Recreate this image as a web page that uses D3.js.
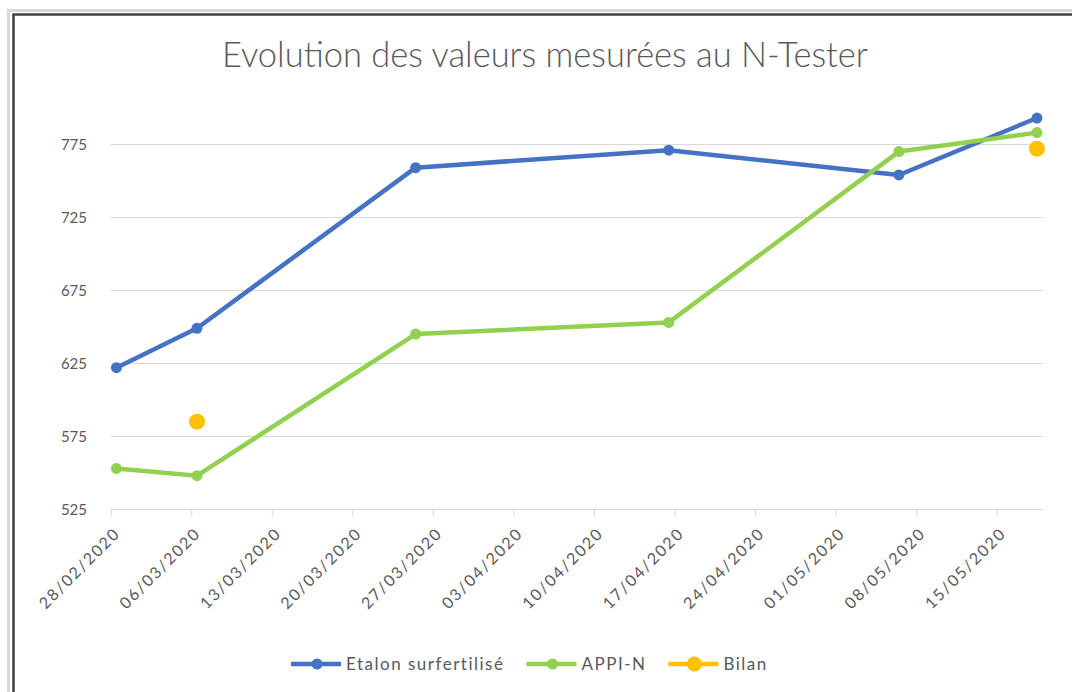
<!DOCTYPE html>
<html><head><meta charset="utf-8">
<script src="https://cdn.jsdelivr.net/npm/d3@7"></script>
<style>
html,body{margin:0;padding:0;background:#fff;}
svg{display:block;}
text{font-family:Lato,"Open Sans",sans-serif;fill:#595959;}
</style></head>
<body>
<svg id="c" width="1072" height="692"></svg>
<script>
const title = "Evolution des valeurs mesurées au N-Tester";
const dates = ["28/02/2020","06/03/2020","25/03/2020","16/04/2020","06/05/2020","18/05/2020"];
const etalon = [622, 649, 759, 771, 754, 793];
const appiN = [553, 548, 645, 653, 770, 783];
const bilanDates = ["06/03/2020","18/05/2020"];
const bilan = [585, 772];
const xTickLabels = ["28/02/2020","06/03/2020","13/03/2020","20/03/2020","27/03/2020","03/04/2020","10/04/2020","17/04/2020","24/04/2020","01/05/2020","08/05/2020","15/05/2020"];
const yTicks = [525, 575, 625, 675, 725, 775];
const seriesNames = ["Etalon surfertilisé","APPI-N","Bilan"];
const colors = ["#4472C4","#92D050","#FFC000"];

const parse = d3.utcParse("%d/%m/%Y");
const mid = s => new Date(parse(s).getTime() + 12*3600*1000);
const svg = d3.select("#c");

// frame
svg.append("rect").attr("x",8.5).attr("y",10.5).attr("width",1100).attr("height",700)
  .attr("fill","none").attr("stroke","#d9d9d9").attr("stroke-width",3);
svg.append("rect").attr("x",13.5).attr("y",14.5).attr("width",1100).attr("height",700)
  .attr("fill","none").attr("stroke","#404040").attr("stroke-width",2.5);

const x = d3.scaleUtc().domain([parse("28/02/2020"), parse("19/05/2020")]).range([110.7, 1042.7]);
const y = d3.scaleLinear().domain([525, 800]).range([509.3, 107.8]);

// title
const t = svg.append("text").attr("x", 545).attr("y", 67).attr("text-anchor","middle")
  .style("font-size","28px").style("font-weight","300").text(title);
const tw = t.node().getComputedTextLength();
t.style("font-size", (28*646/tw).toFixed(2)+"px");

// gridlines
svg.append("g").selectAll("line").data(yTicks.slice(1)).join("line")
  .attr("x1",110.7).attr("x2",1042.7).attr("y1",d=>Math.round(y(d))+0.5).attr("y2",d=>Math.round(y(d))+0.5)
  .attr("stroke","#d9d9d9").attr("stroke-width",1);

// y axis labels
const yAxis = d3.axisLeft(y).tickValues(yTicks).tickSize(0).tickPadding(0);
const yg = svg.append("g").attr("transform","translate(87,0)").call(yAxis);
yg.select(".domain").remove();
yg.selectAll("text").style("font-size","15px").attr("fill","#595959").style("font-family","Lato,sans-serif");

// x axis
const xTickDates = xTickLabels.map(parse);
const xAxis = d3.axisBottom(x).tickValues(xTickDates).tickSize(7).tickFormat(d3.utcFormat("%d/%m/%Y"));
const xg = svg.append("g").attr("transform", `translate(0,${Math.round(y(525))+0.5})`).call(xAxis);
xg.select(".domain").attr("stroke","#d9d9d9").attr("d","M110.7,0H1042.7");
xg.selectAll(".tick line").attr("stroke","#d9d9d9");
xg.selectAll(".tick text").style("font-size","16px").style("letter-spacing","1.8px").attr("fill","#595959")
  .style("font-family","Lato,sans-serif")
  .attr("text-anchor","end").attr("dy","0.35em").attr("y",0)
  .attr("transform","translate(6,21) rotate(-45)");

// lines
const line = d3.line().x(d=>x(d[0])).y(d=>y(d[1]));
const series = [
  {vals: dates.map((d,i)=>[mid(d), etalon[i]]), c: colors[0], r:5.5, line:true},
  {vals: dates.map((d,i)=>[mid(d), appiN[i]]), c: colors[1], r:5.5, line:true},
  {vals: bilanDates.map((d,i)=>[mid(d), bilan[i]]), c: colors[2], r:8, line:false}
];
series.forEach(s=>{
  if (s.line) svg.append("path").datum(s.vals).attr("d",line).attr("fill","none")
    .attr("stroke",s.c).attr("stroke-width",4.5).attr("stroke-linejoin","round").attr("stroke-linecap","round");
  svg.append("g").selectAll("circle").data(s.vals).join("circle")
    .attr("cx",d=>x(d[0])).attr("cy",d=>y(d[1])).attr("r",s.r).attr("fill",s.c);
});

// legend
const lg = svg.append("g");
let cx = 291;
const ly = 664;
seriesNames.forEach((n,i)=>{
  const g = lg.append("g");
  g.append("line").attr("x1",cx).attr("x2",cx+50).attr("y1",ly).attr("y2",ly)
    .attr("stroke",colors[i]).attr("stroke-width",4.5);
  g.append("circle").attr("cx",cx+26).attr("cy",ly).attr("r", i===2?7.5:5.5).attr("fill",colors[i]);
  const tx = g.append("text").attr("x",cx+55).attr("y",ly).attr("dy","0.35em")
    .style("font-size","17px").style("letter-spacing","1.5px").text(n);
  cx += 55 + tx.node().getComputedTextLength() + 22;
});
</script>
</body></html>
